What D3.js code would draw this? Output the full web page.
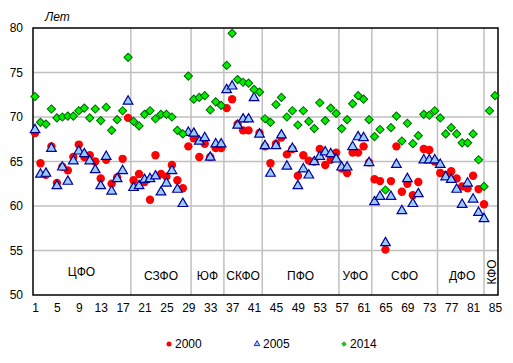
<!DOCTYPE html>
<meta charset="utf-8">
<script src="https://d3js.org/d3.v7.min.js"></script>
<html>
<head>
<style>
body { margin: 0; background: white; }
text { font-family: "Liberation Sans", Arial, sans-serif; font-size: 12px; fill: black; }
</style>
</head>
<body>
<div id="my_dataviz"></div>
<script>

// region numbers 1..85
var regions = d3.range(1, 86);

// life expectancy, years (null = no data)
var le2000 = [68.2,64.8,63.5,66.7,62.6,64.4,64.0,65.5,66.9,65.5,65.7,65.0,63.1,65.2,62.5,63.2,65.3,69.9,
  62.9,63.6,62.7,60.7,65.7,63.6,63.3,64.6,62.9,62.0,66.7,
  67.6,65.5,67.0,65.5,66.5,66.5,
  71.0,72.0,69.2,68.5,68.5,null,68.2,
  66.7,64.8,67.0,67.7,65.8,66.4,63.4,65.7,65.1,65.0,66.4,64.6,65.2,66.0,
  64.2,63.7,66.0,66.0,66.7,64.9,
  63.0,62.8,55.1,62.8,66.7,61.6,62.5,61.2,62.7,66.4,66.3,65.0,
  63.7,63.5,63.9,63.1,62.2,62.0,63.4,61.9,60.2,
  null,null];
var le2005 = [68.5,63.5,63.6,66.4,62.2,64.3,62.7,65.0,66.1,65.8,65.0,64.0,62.2,65.5,61.6,63.0,63.9,71.7,
  62.0,62.2,62.9,63.0,63.3,61.5,62.5,63.9,61.8,60.2,68.2,
  68.1,67.2,67.6,65.4,66.9,66.9,
  73.0,73.4,69.0,69.7,69.7,72.1,68.0,
  66.7,63.6,66.7,67.9,64.4,66.4,62.2,64.1,63.4,64.9,65.5,66.0,65.8,65.2,
  64.3,64.3,66.6,67.7,67.6,64.8,
  60.4,61.0,55.8,61.0,64.6,59.4,63.0,60.2,61.3,65.1,65.1,65.1,
  64.6,63.2,62.9,61.8,60.1,62.5,60.7,59.2,58.5,
  null,null];
var le2014 = [72.3,69.4,69.2,70.9,69.9,70.0,70.1,70.1,70.7,71.0,69.9,70.9,69.6,71.1,68.5,69.7,70.7,76.7,
  69.5,69.0,70.3,70.7,69.8,70.3,70.3,70.0,68.5,68.1,74.6,
  72.0,72.2,72.4,70.8,71.7,71.3,
  75.8,79.4,74.2,73.9,73.8,73.1,72.8,
  69.8,69.4,71.4,72.2,70.0,70.7,69.1,70.7,69.5,68.7,71.6,69.6,71.0,70.4,
  68.7,69.7,71.5,72.4,72.0,69.7,
  67.8,68.6,61.8,68.8,70.1,67.3,69.3,67.0,67.9,70.3,70.2,70.7,
  69.9,68.1,68.8,68.1,67.1,67.1,68.1,65.2,62.2,
  70.7,72.4];

// federal districts: name, first and last region
var districtNames = ["ЦФО","СЗФО","ЮФ","СКФО","ПФО","УФО","СФО","ДФО","КФО"];
var districtFirst = [1, 19, 30, 36, 43, 57, 63, 75, 84];
var districtLast  = [18, 29, 35, 42, 56, 62, 74, 83, 85];
// vertical separators between districts
var separators = [18.5, 29.5, 35.5, 42.5, 56.5, 62.5, 74.5, 83];

var xTicks = d3.range(1, 86, 4);
var yTicks = [50, 55, 60, 65, 70, 75, 80];
var seriesNames = ["2000", "2005", "2014"];

// dimensions
var W = 513, H = 363;
var margin = {top: 28, right: 15, bottom: 68, left: 33},
    width = W - margin.left - margin.right,
    height = H - margin.top - margin.bottom;

var svgRoot = d3.select("#my_dataviz")
  .append("svg")
    .attr("width", W)
    .attr("height", H);
var svg = svgRoot.append("g")
    .attr("transform", "translate(" + margin.left + "," + margin.top + ")");

var x = d3.scaleLinear()
  .domain([0.635, 85.55])
  .range([0, width]);
var y = d3.scaleLinear()
  .domain([50, 80])
  .range([height, 0]);

// horizontal gridlines
svg.append("g")
  .selectAll("line")
  .data(yTicks.slice(1, -1))
  .enter().append("line")
    .attr("x1", 0).attr("x2", width)
    .attr("y1", function(d) { return y(d); })
    .attr("y2", function(d) { return y(d); })
    .attr("stroke", "#c0c0c0")
    .attr("stroke-width", 1.5);

// vertical separators
svg.append("g")
  .selectAll("line")
  .data(separators)
  .enter().append("line")
    .attr("x1", function(d) { return x(d); })
    .attr("x2", function(d) { return x(d); })
    .attr("y1", 0).attr("y2", height)
    .attr("stroke", "#c0c0c0")
    .attr("stroke-width", 1.5);

// district labels
svg.append("g")
  .selectAll("text")
  .data(districtNames)
  .enter().append("text")
    .attr("text-anchor", "middle")
    .attr("transform", function(d, i) {
      var cx = x((districtFirst[i] + districtLast[i]) / 2);
      if (d === "КФО") return "translate(" + (cx + 4) + "," + y(52.6) + ") rotate(-90)";
      var cy = y(i === 0 ? 52.1 : 51.7);
      return "translate(" + cx + "," + cy + ")";
    })
    .text(function(d) { return d; });

// axes
var xAxis = svg.append("g")
  .attr("transform", "translate(0," + height + ")")
  .call(d3.axisBottom(x).tickValues(xTicks).tickSize(0).tickPadding(8));
xAxis.select(".domain").remove();
xAxis.selectAll("text").style("font-size", "12px").style("font-family", "Liberation Sans, Arial, sans-serif");

var yAxis = svg.append("g")
  .call(d3.axisLeft(y).tickValues(yTicks).tickSize(0).tickPadding(10));
yAxis.select(".domain").remove();
yAxis.selectAll("text").style("font-size", "12px").style("font-family", "Liberation Sans, Arial, sans-serif");

// frame
svg.append("rect")
  .attr("width", width)
  .attr("height", height)
  .attr("fill", "none")
  .attr("stroke", "black")
  .attr("stroke-width", 1.5);

// unit label
svgRoot.append("text")
  .attr("x", 45)
  .attr("y", 21)
  .style("font-style", "italic")
  .text("Лет");

// markers
var triangle = d3.symbol().type(d3.symbolTriangle).size(40);
var diamond = d3.symbol().type(d3.symbolSquare).size(34);

function pts(values) {
  return regions.map(function(r, i) { return {r: r, v: values[i]}; })
    .filter(function(d) { return d.v !== null; });
}

svg.append("g")
  .selectAll("circle")
  .data(pts(le2000))
  .enter().append("circle")
    .attr("cx", function(d) { return x(d.r); })
    .attr("cy", function(d) { return y(d.v); })
    .attr("r", 4.2)
    .attr("fill", "#ff0000");

svg.append("g")
  .selectAll("path")
  .data(pts(le2005))
  .enter().append("path")
    .attr("d", triangle)
    .attr("transform", function(d) { return "translate(" + x(d.r) + "," + (y(d.v) - 0.5) + ")"; })
    .attr("fill", "#99ccff")
    .attr("stroke", "#000099")
    .attr("stroke-width", 1.2);

svg.append("g")
  .selectAll("path")
  .data(pts(le2014))
  .enter().append("path")
    .attr("d", diamond)
    .attr("transform", function(d) { return "translate(" + x(d.r) + "," + y(d.v) + ") rotate(45)"; })
    .attr("fill", "#00ee00")
    .attr("stroke", "#006400")
    .attr("stroke-width", 1);

// legend
var legendX = [169, 257, 344];
var legend = svgRoot.append("g");
legend.append("circle").attr("cx", legendX[0]).attr("cy", 344).attr("r", 2.5).attr("fill", "#ff0000");
legend.append("path").attr("d", d3.symbol().type(d3.symbolTriangle).size(14))
  .attr("transform", "translate(" + legendX[1] + ",344)")
  .attr("fill", "#99ccff").attr("stroke", "#000099").attr("stroke-width", 0.8);
legend.append("path").attr("d", d3.symbol().type(d3.symbolSquare).size(10))
  .attr("transform", "translate(" + legendX[2] + ",344) rotate(45)")
  .attr("fill", "#00ee00").attr("stroke", "#006400").attr("stroke-width", 0.6);
legend.selectAll("text")
  .data(seriesNames)
  .enter().append("text")
    .attr("x", function(d, i) { return legendX[i] + 6; })
    .attr("y", 348)
    .text(function(d) { return d; });

</script>
</body>
</html>
